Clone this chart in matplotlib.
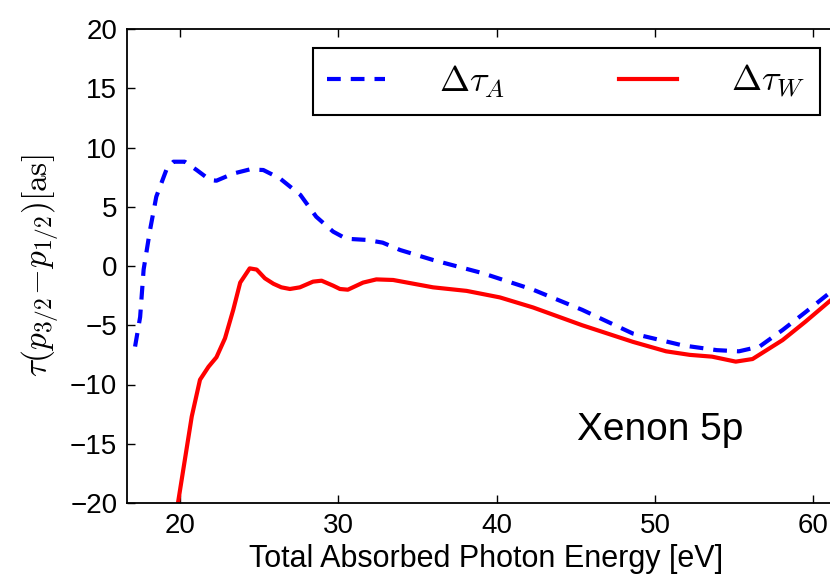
import numpy as np
import matplotlib
matplotlib.use("Agg")
import matplotlib.pyplot as plt
from matplotlib import rcParams

rcParams["font.family"] = "Liberation Sans"
rcParams["mathtext.fontset"] = "cm"
rcParams["xtick.direction"] = "in"
rcParams["ytick.direction"] = "in"
rcParams["xtick.top"] = True
rcParams["ytick.right"] = True

# Data
e_A = [17.16, 17.48, 17.7, 18.1, 18.5, 19.16, 19.58, 20.3, 21.05, 21.9, 22.3,
       23.36, 24.4, 25.26, 26.3, 27.6, 28.6, 29.67, 30.5, 31.8, 32.8, 33.9,
       36.0, 39.1, 42.3, 45.4, 48.6, 51.75, 53.9, 55.3, 56.6, 58.06, 59.5,
       61.0, 62.0]
tau_A = [-6.8, -4.3, -0.3, 3.0, 5.85, 8.2, 8.8, 8.8, 8.1, 7.25, 7.2,
         7.8, 8.15, 8.1, 7.4, 6.0, 4.16, 2.9, 2.3, 2.2, 1.97, 1.35,
         0.5, -0.6, -2.0, -3.7, -5.7, -6.7, -7.1, -7.2, -6.8, -5.4, -3.9,
         -2.3, -1.3]

e_W = [19.75, 20.74, 21.26, 21.8, 22.3, 22.84, 23.36, 23.8, 24.4, 24.84,
       25.36, 25.9, 26.4, 26.94, 27.57, 28.4, 28.94, 29.67, 30.1, 30.6,
       31.56, 32.4, 33.46, 35.98, 38.1, 40.2, 42.3, 45.4, 48.6, 50.7, 52.2,
       53.6, 55.1, 56.16, 58.06, 59.5, 61.0, 62.0]
tau_W = [-21.0, -12.7, -9.6, -8.5, -7.7, -6.1, -3.7, -1.4, -0.2, -0.3,
         -1.04, -1.5, -1.8, -1.94, -1.8, -1.32, -1.24, -1.66, -1.94, -2.0,
         -1.4, -1.13, -1.18, -1.8, -2.1, -2.65, -3.5, -5.0, -6.4, -7.2, -7.5,
         -7.65, -8.07, -7.85, -6.25, -4.7, -3.0, -1.9]

fig = plt.figure(figsize=(8.3, 5.76), dpi=100)
ax = fig.add_axes([127/830, 1 - 503/576, (845 - 127)/830, (503 - 29)/576])

lw = 3.0
ax.plot(e_A, tau_A, c="b", lw=lw, ls="--", dashes=(3.3, 2.4),
        label=r"$\Delta\tau_A$")
ax.plot(e_W, tau_W, c="r", lw=lw, ls="solid", label=r"$\Delta\tau_W$")

ax.set_xlim(16.65, 62.0)
ax.set_ylim(-20, 20)
ax.set_xticks([20, 30, 40, 50, 60])
ax.set_yticks([-20, -15, -10, -5, 0, 5, 10, 15, 20])
ax.tick_params(labelsize=20, length=6, width=1, pad=7)
for s in ax.spines.values():
    s.set_linewidth(1.3)

ax.set_xlabel("Total Absorbed Photon Energy [eV]", fontsize=22, labelpad=4)
ax.set_ylabel(r"$\tau(p_{3/2}\!-\!p_{1/2})[\mathrm{as}]$", fontsize=24,
              labelpad=6)

ax.text(50.3, -13.8, "Xenon 5p", fontsize=28, ha="center", va="center")

leg = ax.legend(loc="center", ncol=2, mode="expand", fontsize=26,
                bbox_to_anchor=(313/830, 1 - 116/576, 507/830, 69/576),
                bbox_transform=fig.transFigure, borderaxespad=0,
                handlelength=1.6, handletextpad=1.5, fancybox=False,
                framealpha=1)
leg.get_frame().set_edgecolor("k")
leg.get_frame().set_linewidth(1.5)

plt.savefig("out.png", dpi=100)
